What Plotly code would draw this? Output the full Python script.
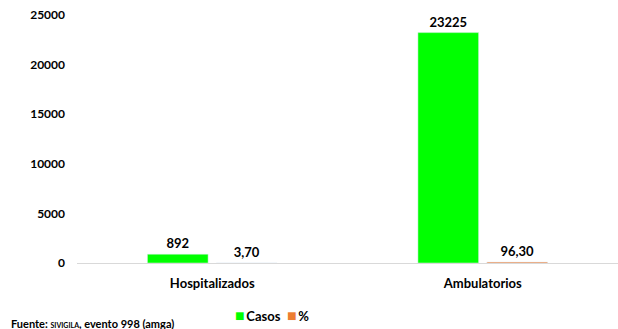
import plotly.graph_objects as go

categories = ["Hospitalizados", "Ambulatorios"]
casos = [892, 23225]
porcentaje = [3.70, 96.30]
casos_labels = ["892", "23225"]
porcentaje_labels = ["3,70", "96,30"]
y_ticks = [0, 5000, 10000, 15000, 20000, 25000]

FONT = "Lato, 'Open Sans', Arial, sans-serif"
GREEN = "#00FF00"
ORANGE = "#ED7D31"

fig = go.Figure()
fig.add_trace(go.Bar(
    name="Casos", x=categories, y=casos, marker_color=GREEN,
    text=casos_labels, textposition="outside", cliponaxis=False,
    textfont=dict(family=FONT, size=13, color="#000000", weight="bold"),
))
fig.add_trace(go.Bar(
    name="%", x=categories, y=porcentaje, marker_color=ORANGE,
    text=porcentaje_labels, textposition="outside", cliponaxis=False,
    textfont=dict(family=FONT, size=13, color="#000000", weight="bold"),
))

fig.update_layout(
    width=618, height=329,
    margin=dict(l=77, r=0, t=15, b=66, autoexpand=False),
    paper_bgcolor="white", plot_bgcolor="white",
    barmode="group", bargap=0.49, bargroupgap=0.12,
    font=dict(family=FONT, size=12, color="#000000"),
    showlegend=False,
)
fig.update_xaxes(
    showgrid=False, showline=True, linecolor="#D9D9D9", linewidth=1,
    ticks="", tickfont=dict(family=FONT, size=13, color="#000000", weight="bold"),
    ticklabelstandoff=8,
)
fig.update_yaxes(
    range=[0, 25000], tickvals=y_ticks, ticktext=[str(v) for v in y_ticks],
    showgrid=False, zeroline=False, showline=False, ticks="",
    tickfont=dict(family=FONT, size=12, color="#000000", weight="bold"),
    ticklabelstandoff=11,
)

# legend (as text with coloured swatches)
fig.add_annotation(
    xref="paper", yref="paper", x=0.36, y=-0.207, xanchor="center", yanchor="middle",
    showarrow=False,
    text=(f"<span style='color:{GREEN};font-size:16px'>■</span>&#8201;<b>Casos</b>"
          f"&nbsp;&nbsp;<span style='color:{ORANGE};font-size:16px'>■</span>&#8201;<b>%</b>"),
    font=dict(family=FONT, size=13, color="#000000"),
)

fig.add_annotation(
    xref="paper", yref="paper", x=-0.125, y=-0.21, xanchor="left", yanchor="top",
    showarrow=False, align="left",
    text="<b>Fuente: <span style='font-size:7px'>SIVIGILA</span>, evento 998 (amga)</b>",
    font=dict(family=FONT, size=11, color="#000000"),
)

fig.write_html(
    "out.html",
    config={"displayModeBar": False},
    post_script="document.body.style.margin='0';document.body.style.overflow='hidden';",
)
